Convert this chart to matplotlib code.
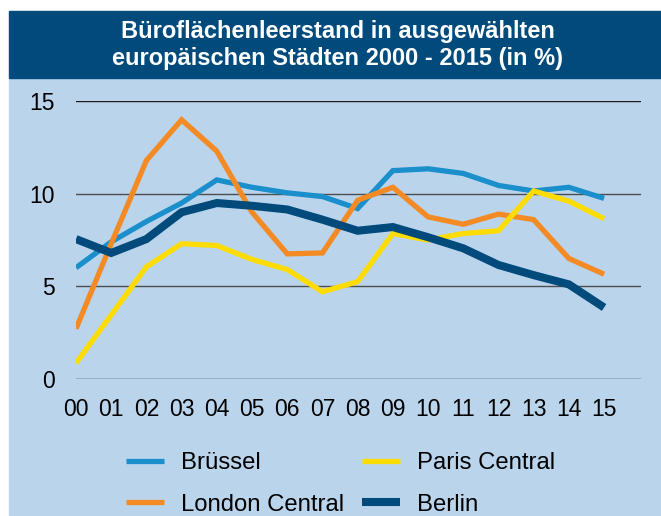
import matplotlib.pyplot as plt
from matplotlib.patches import Rectangle
from matplotlib.lines import Line2D

plt.rcParams['font.family'] = ['Liberation Sans', 'DejaVu Sans']

# Jahre 2000 - 2015
years = ["00", "01", "02", "03", "04", "05", "06", "07",
         "08", "09", "10", "11", "12", "13", "14", "15"]

# Leerstandsquoten in %
bruessel = [6.0, 7.4, 8.5, 9.5, 10.75, 10.35, 10.05, 9.85,
            9.2, 11.25, 11.35, 11.1, 10.45, 10.15, 10.35, 9.75]
london = [2.7, 7.3, 11.8, 14.0, 12.3, 9.0, 6.75, 6.8,
          9.65, 10.35, 8.75, 8.35, 8.9, 8.6, 6.5, 5.65]
paris = [0.85, 3.45, 6.05, 7.3, 7.2, 6.45, 5.9, 4.7,
         5.25, 7.85, 7.5, 7.85, 8.0, 10.15, 9.6, 8.65]
berlin = [7.55, 6.8, 7.55, 9.0, 9.5, 9.35, 9.15, 8.6,
          8.0, 8.2, 7.65, 7.05, 6.15, 5.6, 5.1, 3.85]

y_ticks = [0, 5, 10, 15]
grid_colors = ["#1a1a1a", "#4d4d4d", "#4d4d4d", "#1a1a1a"]

navy = "#004a7c"
panel_bg = "#bad4ec"
c_bru = "#1a8fcc"
c_lon = "#f48a24"
c_par = "#ffdc00"

W, H = 661, 516
fig = plt.figure(figsize=(W / 100, H / 100), dpi=100, facecolor="white")

# hellblaues Feld + Kopfzeile
fig.patches.append(Rectangle((9 / W, 0), 1 - 9 / W, 1 - 78 / H,
                             transform=fig.transFigure, color=panel_bg, zorder=-5))
fig.patches.append(Rectangle((9 / W, 1 - 78 / H), 1 - 9 / W, 67 / H,
                             transform=fig.transFigure, color=navy, zorder=-5))

fig.text(0.511, 1 - 37.7 / H, "Büroflächenleerstand in ausgewählten",
         color="white", fontsize=17, fontweight="bold", ha="center", va="baseline")
fig.text(0.511, 1 - 65 / H, "europäischen Städten 2000 - 2015 (in %)",
         color="white", fontsize=17, fontweight="bold", ha="center", va="baseline")

ax = fig.add_axes([76 / W, 1 - 378.7 / H, 564.7 / W, 277.4 / H])
ax.set_zorder(2)
ax.set_facecolor("none")
for s in ax.spines.values():
    s.set_visible(False)

x = list(range(len(years)))
for yv, gc in zip(y_ticks, grid_colors):
    ax.axhline(yv, color=gc, lw=1.0, zorder=1)

ax.plot(x, bruessel, color=c_bru, lw=3.8, solid_joinstyle="miter", solid_capstyle="butt", zorder=3)
ax.plot(x, london, color=c_lon, lw=3.8, solid_joinstyle="miter", solid_capstyle="butt", zorder=3)
ax.plot(x, paris, color=c_par, lw=3.8, solid_joinstyle="miter", solid_capstyle="butt", zorder=3)
ax.plot(x, berlin, color=navy, lw=5.8, solid_joinstyle="miter", solid_capstyle="butt", zorder=4)

ax.set_xlim(0, 16.04)
ax.set_ylim(0, 15)
ax.set_xticks(x)
ax.set_xticklabels(years)
ax.set_yticks(y_ticks)
ax.tick_params(axis="both", length=0, labelsize=16.5, colors="black")
ax.tick_params(axis="y", pad=15)
ax.tick_params(axis="x", pad=14)

handles = [
    Line2D([], [], color=c_bru, lw=3.8, solid_capstyle="butt"),
    Line2D([], [], color=c_lon, lw=3.8, solid_capstyle="butt"),
    Line2D([], [], color=c_par, lw=3.8, solid_capstyle="butt"),
    Line2D([], [], color=navy, lw=5.8, solid_capstyle="butt"),
]
labels = ["Brüssel", "London Central", "Paris Central", "Berlin"]
fig.legend(handles, labels, ncol=2, loc="upper left",
           bbox_to_anchor=(126 / W, 1 - 452 / H), frameon=False,
           fontsize=17.2, borderpad=0, borderaxespad=0,
           handlelength=1.6, handletextpad=0.72, columnspacing=0.72,
           labelspacing=0.82)

fig.savefig("out.png", dpi=100, facecolor="white")
